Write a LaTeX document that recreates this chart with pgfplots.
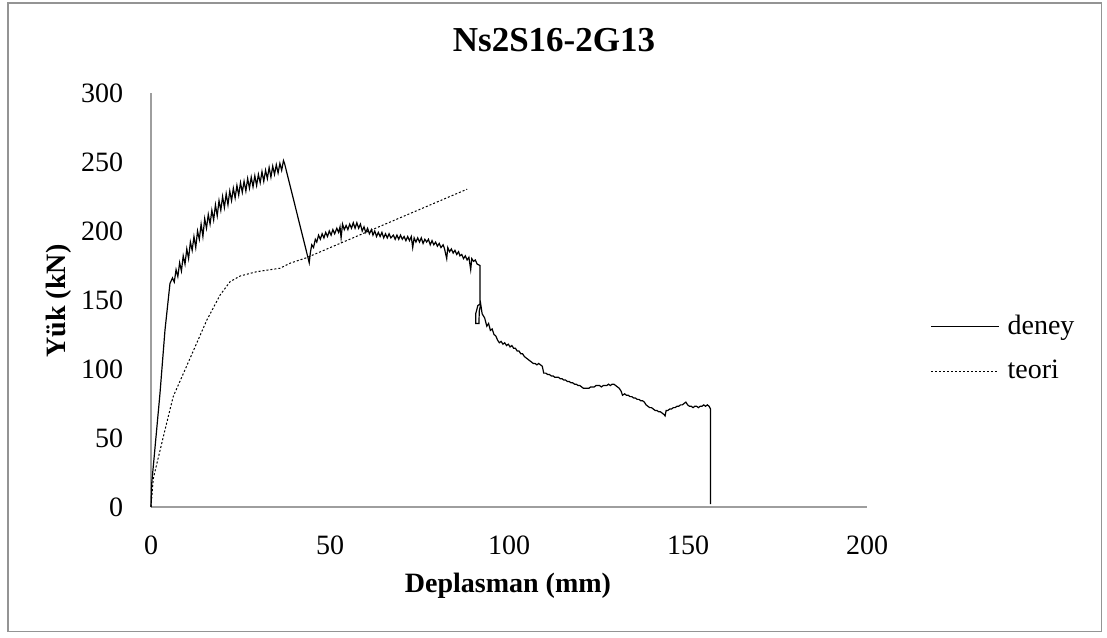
\documentclass[border=0pt]{standalone}
\usepackage{fontspec}
\setmainfont{Liberation Serif}
\usepackage{pgfplots}
\pgfplotsset{compat=1.18}

\begin{document}
\begin{tikzpicture}
\begin{axis}[
  name=ax,
  scale only axis,
  width=358pt, height=207pt,
  xmin=0, xmax=200, ymin=0, ymax=300,
  xtick={0,50,...,200}, ytick={0,50,...,300},
  axis x line=bottom, axis y line=left,
  axis line style={-, draw=black!38, line width=0.8pt},
  major tick length=0pt,
  tick label style={font=\fontsize{14}{16}\selectfont},
  /pgf/number format/assume math mode=true,
  xticklabel style={anchor=north, inner sep=0pt, yshift=-14pt},
  yticklabel style={anchor=east, inner sep=0pt, xshift=-13.7pt},
  clip=false,
  legend style={draw=none, fill=none, at={(1.088,0.383)}, anchor=west,
    inner sep=0pt, row sep=9.5pt, column sep=3pt,
    font=\fontsize{14}{16}\selectfont, cells={anchor=west},
    nodes={inner sep=1pt}},
  legend image code/.code={\draw[#1] (0pt,0pt) -- (34pt,0pt);},
]
% deney
\addplot[black, line width=0.6pt] coordinates {
(0,0) (0.2,17) (2.5,82) (3.9,128) (5.3,162)
(6,166) (6.5,163) (7,172) (7.5,167) (8,177) (8.5,171) (9,182) (9.5,176) (10,187) (10.5,180)
(11,192) (11.5,186) (12,196) (12.5,188) (13,200) (13.5,194) (14,205) (14.5,196) (15,209) (15.5,202)
(16,212) (16.5,205) (17,215) (17.5,208) (18,219) (18.5,211) (19,222) (19.5,215) (20,225) (20.5,217)
(21,227) (21.5,219) (22,229) (22.5,222) (23,231) (23.5,224) (24,233) (24.5,226) (25,235) (25.5,228)
(26,236) (26.5,229) (27,238) (27.5,231) (28,239) (28.5,232) (29,240) (29.5,233) (30,241) (30.5,235)
(31,243) (31.5,236) (32,244) (32.5,238) (33,246) (33.5,239) (34,247) (34.5,241) (35,248) (35.5,242)
(36,249) (36.5,244) (37,251) (37.3,249)
(44.2,177) (44.5,184) (44.9,190) (45.4,188) (45.9,194) (46.3,192) (46.8,197) (47.3,194) (47.8,198)
(48.3,195) (48.8,199) (49.3,196) (49.8,200) (50.3,197) (50.8,201) (51.3,198) (51.9,202) (52.4,199)
(52.8,203) (53.1,195) (53.5,205) (54,201) (54.5,204) (55,201) (55.5,205) (56,202) (56.5,206) (57,202)
(57.5,206) (58,202) (58.5,205) (59,200) (59.5,203) (60,199) (60.5,202) (61,198) (61.6,201) (62,197)
(62.5,200) (63,196) (63.5,199) (64,196) (64.5,199) (65,195) (65.5,198) (66,195) (66.5,198) (67,195)
(67.7,197) (68.2,194) (68.7,197) (69.2,194) (69.7,197) (70.2,194) (70.7,196) (71.2,193) (71.7,196)
(72.2,193) (72.7,196) (73.1,188) (73.5,195) (74,192) (74.5,195) (75,192) (75.5,195) (76,191)
(76.5,194) (77,192) (77.5,194) (78,190) (78.5,193) (79,190) (79.5,192) (80,189) (80.5,191) (81,188)
(81.6,190) (82,187) (82.6,180) (82.9,188) (83.4,185) (83.9,187) (84.4,184) (84.9,186) (85.4,183)
(85.9,185) (86.3,182) (86.8,183) (87.3,180) (87.8,182) (88.3,179) (88.8,181) (89.3,172) (89.6,180)
(90.1,178) (90.6,179) (91.1,176) (91.9,175)
(91.9,147) (91.3,146) (90.7,140) (90.7,133) (91.6,133) (91.7,142) (92.1,147) (92.5,140) (93.2,137)
(93.8,131) (94.3,133) (94.8,128) (95.3,129) (95.8,125) (96.3,124) (96.8,121) (97.3,119) (97.8,120)
(98.3,118) (98.8,119) (99.3,117) (99.8,118) (100.3,116) (100.8,117) (101.3,115) (101.8,115) (102.3,113)
(102.8,113) (103.3,111) (103.8,111) (104.3,109) (104.8,108) (105.3,107) (105.8,106) (106.3,105)
(106.8,104) (107.3,104) (107.8,103) (108.3,104) (108.8,103) (109.3,102) (109.7,97) (110.3,97)
(110.8,96) (111.3,96) (111.8,95) (112.3,95) (112.8,94) (113.3,94) (113.8,94) (114.3,93) (114.8,93)
(115.3,92) (115.8,92) (116.3,91) (116.8,91) (117.3,90) (117.8,90) (118.3,89) (118.8,89) (119.3,88)
(119.8,88) (120.3,87) (120.8,86) (121.3,86) (121.8,86) (122.3,86) (122.8,87) (123.3,87) (123.8,87)
(124.3,88) (124.8,88) (125.3,88) (125.8,87) (126.3,88) (126.8,88) (127.3,88) (127.8,89) (128.3,88)
(128.8,89) (129.3,89) (129.8,88) (130.3,87) (130.8,86) (131.3,84) (131.7,81) (132.3,82) (132.8,81)
(133.3,81) (133.8,80) (134.3,80) (134.8,79) (135.3,79) (135.8,78) (136.3,78) (136.8,77) (137.3,77)
(137.8,76) (138.3,74) (138.8,73) (139.3,72) (139.8,72) (140.3,71) (140.8,70) (141.3,70) (141.8,69)
(142.3,69) (142.8,68) (143.3,67) (143.6,66) (143.9,70) (144.4,70) (144.9,71) (145.4,71) (145.9,72)
(146.4,72) (146.9,73) (147.4,73) (147.9,74) (148.4,74) (148.9,75) (149.4,76) (149.9,74) (150.4,73)
(150.9,73) (151.4,72) (151.9,73) (152.4,73) (152.9,72) (153.4,73) (153.9,73) (154.4,74) (154.9,73)
(155.4,74) (155.9,73) (156.3,71) (156.3,2)
};
\addlegendentry{deney}
% teori
\addplot[black, line width=0.5pt, dash pattern=on 1pt off 1pt] coordinates {
(0,0) (0.65,20.8) (3.9,55.8) (6.2,80) (10.9,107.7) (15.6,135.5) (19.3,153.6) (22.1,163.3)
(24.9,167.4) (29.5,170.5) (36,173) (38.8,176.6) (43.3,180.5) (88.3,230.3)
};
\addlegendentry{teori}
\end{axis}
\pgfresetboundingbox
\path ([shift={(-75.5pt,-65pt)}]ax.south west) rectangle ++(553.5pt,318.5pt);
\draw[black!42, line width=0.75pt]
  ([shift={(-71.5pt,-62.25pt)}]ax.south west) rectangle ([shift={(475.25pt,252pt)}]ax.south west);
\node[font=\bfseries\fontsize{17.5}{20}\selectfont, inner sep=0pt]
  at ([shift={(201.5pt,233.5pt)}]ax.south west) {Ns2S16-2G13};
\node[font=\bfseries\fontsize{14}{16}\selectfont, inner sep=0pt, rotate=90]
  at ([shift={(-46pt,103pt)}]ax.south west) {Yük (kN)};
\node[font=\bfseries\fontsize{14}{16}\selectfont, inner sep=0pt]
  at ([shift={(178.5pt,-39.5pt)}]ax.south west) {Deplasman (mm)};
\end{tikzpicture}
\end{document}
